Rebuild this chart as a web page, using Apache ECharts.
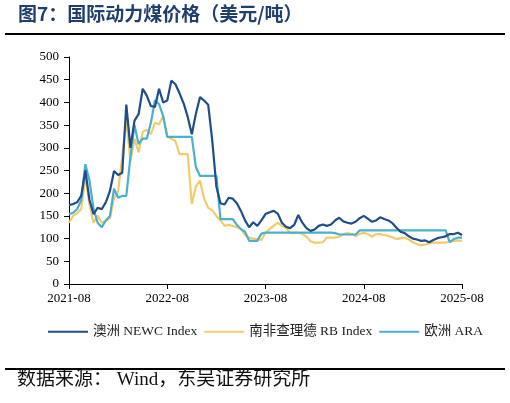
<!DOCTYPE html>
<html><head><meta charset="utf-8">
<script src="https://cdn.jsdelivr.net/npm/echarts@6/dist/echarts.min.js"></script>
<style>html,body{margin:0;padding:0;background:#fff}#c{width:510px;height:403px}</style>
</head><body><div id="c"></div>
<script>
// semi-monthly dates from 2021-08 to 2025-08
const categories = [];
for (let y = 2021, m = 8; y < 2025 || (y === 2025 && m <= 8); ) {
  const mm = (m < 10 ? '0' : '') + m;
  categories.push(y + '-' + mm + '-01');
  if (y === 2025 && m === 8) break;
  categories.push(y + '-' + mm + '-16');
  m++; if (m > 12) { m = 1; y++; }
}
const newc = [174,176,180,195,250,185,154,168,165,180,205,249,240,245,395,300,360,374,430,415,392,390,430,400,404,448,440,420,398,368,330,375,412,404,395,315,215,178,175,190,188,178,161,140,125,136,128,140,154,158,161,155,135,126,123,130,152,135,123,117,120,128,131,128,131,140,146,138,135,133,137,145,150,144,137,140,147,143,140,134,124,115,112,105,100,98,95,96,92,97,101,103,105,110,110,113,108];
const rb = [135,150,156,165,238,175,135,150,135,140,145,190,205,280,365,270,320,290,335,340,330,355,352,370,325,320,315,286,286,286,176,215,228,188,168,162,150,140,128,130,128,125,121,108,102,100,99,97,113,121,128,135,128,124,112,112,113,110,104,94,91,91,92,102,102,102,104,110,112,110,106,110,113,110,104,110,110,108,106,103,99,101,102,98,92,88,85,87,90,91,91,91,91,94,95,96,95];
const ara = [154,157,165,185,264,228,165,135,125,140,150,210,190,194,194,280,350,308,320,320,355,405,396,370,324,324,324,324,324,324,324,257,238,238,238,238,238,143,143,143,143,130,121,115,95,95,95,111,113,113,113,113,113,113,113,113,113,113,113,113,113,113,113,113,113,112,109,109,109,109,109,118,118,118,118,118,118,118,118,118,118,118,118,118,118,118,118,118,118,118,118,118,118,92,99,102,102];
const yTicks = [0,50,100,150,200,250,300,350,400,450,500];
const seriesNames = ['澳洲 NEWC Index','南非查理德 RB Index','欧洲 ARA'];
const colors = ['#1F4E89','#F2CC6B','#4BAFCF'];

const chart = echarts.init(document.getElementById('c'));
const serif = '"Liberation Serif","Times New Roman",serif';
chart.setOption({
  animation:false,
  color: colors,
  grid:{left:69,right:48,top:57,bottom:119,containLabel:false},
  legend:{
    top:320, left:43, itemWidth:40, itemHeight:2, itemGap:7,
    icon:'rect',
    textStyle:{fontFamily:serif+',"Noto Sans CJK SC"',fontSize:13.5,color:'#222'},
    data: seriesNames
  },
  xAxis:{
    type:'category', data:categories, boundaryGap:false,
    axisLine:{lineStyle:{color:'#000',width:1}},
    axisTick:{interval:function(i){return i%24===0;},length:5,lineStyle:{color:'#000'}},
    axisLabel:{interval:function(i){return i%24===0;},formatter:function(v){return v.slice(0,7);},
      fontFamily:serif,fontSize:13,color:'#000',margin:8},
    splitLine:{show:false}
  },
  yAxis:{
    type:'value', min:yTicks[0], max:yTicks[yTicks.length-1], interval:50,
    axisLine:{show:true,lineStyle:{color:'#000',width:1}},
    axisTick:{show:true,length:5,lineStyle:{color:'#000'}},
    axisLabel:{fontFamily:serif,fontSize:13,color:'#000',margin:10},
    splitLine:{show:false}
  },
  series:[
    {name:seriesNames[0],type:'line',data:newc,symbol:'none',lineStyle:{width:2.2},z:3},
    {name:seriesNames[1],type:'line',data:rb,symbol:'none',lineStyle:{width:2.2},z:1},
    {name:seriesNames[2],type:'line',data:ara,symbol:'none',lineStyle:{width:2.2},z:2}
  ],
  graphic:[
    {type:'text',left:18,top:4,style:{text:'图7：国际动力煤价格（美元/吨）',fontSize:19,fontWeight:'bold',
      fill:'#1F3F6E',fontFamily:'"Noto Sans CJK SC",sans-serif'}},
    {type:'rect',shape:{x:5,y:33,width:500,height:2},style:{fill:'#000'}},
    {type:'rect',shape:{x:5,y:368,width:500,height:2},style:{fill:'#000'}},
    {type:'text',left:17,top:371,style:{text:'数据来源： Wind，东吴证券研究所',fontSize:19,
      fill:'#111',fontFamily:serif+',"Noto Sans CJK SC"'}}
  ]
});
</script></body></html>
